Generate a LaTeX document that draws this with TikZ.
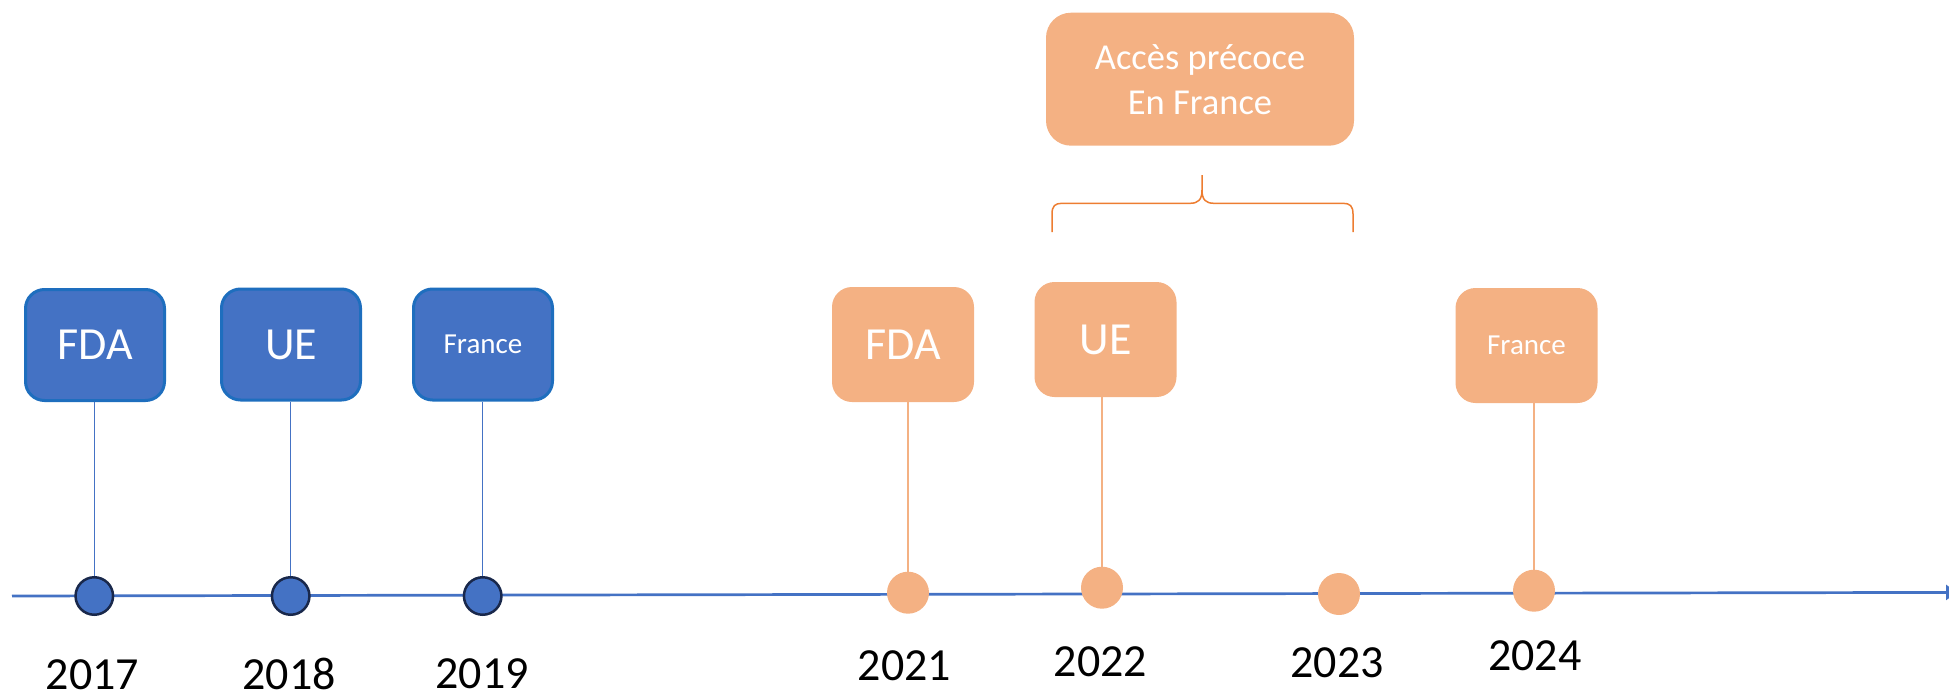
\documentclass[tikz,border=0pt]{standalone}
\usepackage{fontspec}
\setmainfont{Carlito}
\usetikzlibrary{arrows.meta}
\definecolor{bfill}{RGB}{68,114,196}
\definecolor{bborder}{RGB}{30,110,190}
\definecolor{dotborder}{RGB}{25,40,75}
\definecolor{ofill}{RGB}{244,177,131}
\definecolor{obrace}{RGB}{237,125,49}
\tikzset{
  bluebox/.style={draw=bborder, line width=3pt, fill=bfill, rounded corners=19pt,
    minimum width=139pt, minimum height=111pt, inner sep=0pt, text=white, font=\fontsize{46}{55}\selectfont},
  orangebox/.style={fill=ofill, rounded corners=20pt,
    minimum width=142pt, minimum height=115pt, inner sep=0pt, text=white, font=\fontsize{46}{55}\selectfont},
  smalltext/.style={font=\fontsize{29}{35}\selectfont},
  bluedot/.style={circle, draw=dotborder, line width=2.5pt, fill=bfill, minimum size=37.5pt, inner sep=0pt},
  orangedot/.style={circle, fill=ofill, minimum size=42pt, inner sep=0pt},
  yearlabel/.style={anchor=base, inner sep=0pt, text=black, font=\fontsize{46}{55}\selectfont},
  blueconn/.style={draw=bfill, line width=1.3pt},
  orangeconn/.style={draw=ofill, line width=1.5pt},
  axisline/.style={draw=bfill, line width=2.7pt, -{Triangle[length=11pt,width=15pt]}},
}
\begin{document}
\begin{tikzpicture}[x=1pt,y=-1pt]
\useasboundingbox (0,0) rectangle (1949,696);
% axis
\coordinate (axL) at (12,596);
\coordinate (axR) at (1957,592.4);
\draw[axisline] (axL) -- (axR);
% blue boxes
\node[bluebox] (fda1) at (95,345) {FDA};
\node[bluebox] (ue1) at (291,344.5) {UE};
\node[bluebox, smalltext] (fr1) at (483,344.5) {France};
% orange boxes
\node[orangebox] (fda2) at (903,344.5) {FDA};
\node[orangebox] (ue2) at (1105.5,339.5) {UE};
\node[orangebox, smalltext] (fr2) at (1526.5,345.5) {France};
% early access box
\node[fill=ofill, rounded corners=25pt, minimum width=308pt, minimum height=133pt, inner sep=0pt,
  text=white, align=center, font=\fontsize{36.5}{45}\selectfont] (acces) at (1200,79.2)
  {Accès précoce\\En France};
% dots
\node[bluedot] (d17) at (94.3,596) {};
\node[bluedot] (d18) at (290.7,596) {};
\node[bluedot] (d19) at (482.7,596) {};
\node[orangedot] (d21) at (908,592.7) {};
\node[orangedot] (d22) at (1102,587.7) {};
\node[orangedot] (d23) at (1339,594) {};
\node[orangedot] (d24) at (1534,590.7) {};
% connectors
\draw[blueconn] (d17.north) -- (d17.north |- fda1.south);
\draw[blueconn] (d18.north) -- (d18.north |- ue1.south);
\draw[blueconn] (d19.north) -- (d19.north |- fr1.south);
\draw[orangeconn] (d21.north) -- (d21.north |- fda2.south);
\draw[orangeconn] (d22.north) -- (d22.north |- ue2.south);
\draw[orangeconn] (d24.north) -- (d24.north |- fr2.south);
% years
\node[yearlabel] (y17) at (92.5,689) {2017};
\node[yearlabel] (y18) at (289,689) {2018};
\node[yearlabel] (y19) at (482,688) {2019};
\node[yearlabel] (y21) at (904.5,680.5) {2021};
\node[yearlabel] (y22) at (1100.5,676) {2022};
\node[yearlabel] (y23) at (1337,677) {2023};
\node[yearlabel] (y24) at (1534.7,670) {2024};
% brace
\draw[draw=obrace, line width=1.5pt]
  (1052,232) -- (1052,214) .. controls (1052,206) and (1055,203.3) .. (1062,203.3)
  -- (1190,203.3) .. controls (1198,203.3) and (1202,200) .. (1202,190) -- (1202,175)
  (1202,190) .. controls (1202,200) and (1206,203.3) .. (1214,203.3)
  -- (1343,203.3) .. controls (1350,203.3) and (1353,206) .. (1353,214) -- (1353,232);
\end{tikzpicture}
\end{document}
